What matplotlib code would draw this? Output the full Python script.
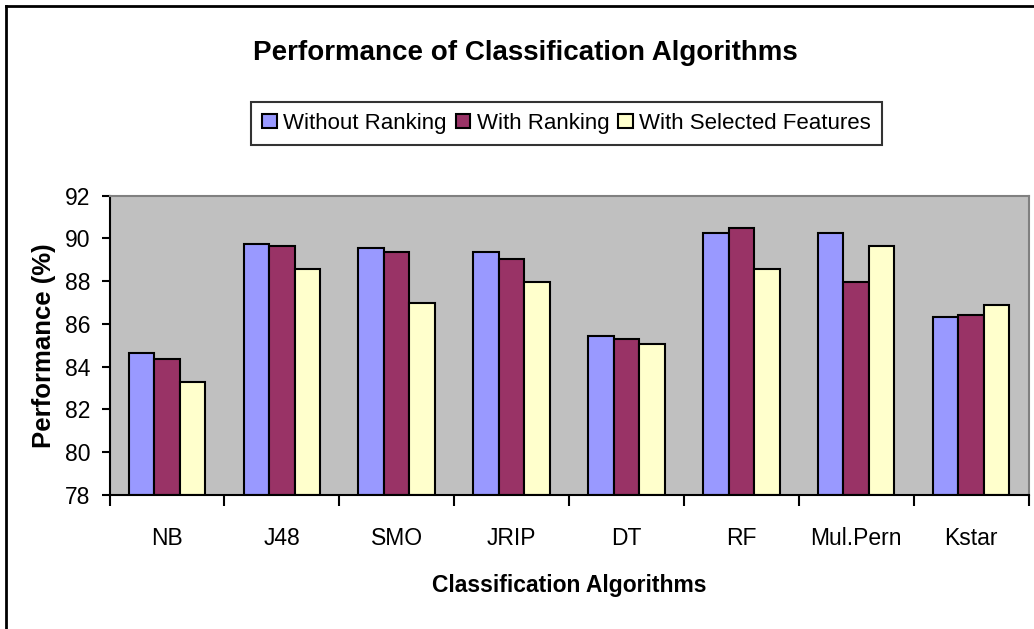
import matplotlib
matplotlib.use("Agg")
import matplotlib.pyplot as plt
import numpy as np

plt.rcParams["font.family"] = ["Liberation Sans", "DejaVu Sans"]

categories = ["NB", "J48", "SMO", "JRIP", "DT", "RF", "Mul.Pern", "Kstar"]
without_ranking = [84.64, 89.74, 89.54, 89.37, 85.44, 90.24, 90.24, 86.33]
with_ranking = [84.35, 89.63, 89.35, 89.05, 85.31, 90.50, 87.98, 86.42]
with_selected = [83.29, 88.56, 87.00, 87.98, 85.05, 88.56, 89.63, 86.90]

series = [("Without Ranking", without_ranking, "#9999FF"),
          ("With Ranking", with_ranking, "#993366"),
          ("With Selected Features", with_selected, "#FFFFCC")]

fig = plt.figure(figsize=(10.34, 6.29), dpi=100)
ax = fig.add_axes([0.1059, 0.2130, 0.8888, 0.4759])
ax.set_facecolor("#C0C0C0")

x = np.arange(len(categories))
w = 0.222
for k, (name, vals, col) in enumerate(series):
    ax.bar(x + (k - 1) * w, np.array(vals) - 78, w, bottom=78, color=col,
           edgecolor="black", linewidth=1.5, label=name)

ax.set_xlim(-0.5, len(categories) - 0.5)
ax.set_ylim(78, 92)
ax.set_yticks(range(78, 93, 2))
ax.set_xticks(x)
ax.set_xticklabels(categories, fontsize=16.5)
ax.set_xticks(np.arange(len(categories) + 1) - 0.5, minor=True)
ax.tick_params(axis="x", which="major", length=0, pad=23)
ax.tick_params(axis="x", which="minor", length=8, width=1.5, direction="out")
ax.tick_params(axis="y", length=6, width=1.5, pad=8, labelsize=16.5)

for s in ["top", "right"]:
    ax.spines[s].set_color("#808080")
    ax.spines[s].set_linewidth(1.5)
for s in ["left", "bottom"]:
    ax.spines[s].set_linewidth(1.5)

ax.set_xlabel("Classification Algorithms", fontsize=16.5, fontweight="bold", labelpad=17)
ax.set_ylabel("Performance (%)", fontsize=18.5, fontweight="bold", labelpad=6)

fig.text(0.508, 0.915, "Performance of Classification Algorithms", fontsize=20,
         fontweight="bold", ha="center", va="center")

leg = fig.legend(loc="center", bbox_to_anchor=(0.548, 0.804), ncol=3, fontsize=16,
                 frameon=True, fancybox=False, edgecolor="black", handlelength=0.65,
                 handleheight=0.65, handletextpad=0.3, columnspacing=0.4,
                 borderpad=0.5, borderaxespad=0)
leg.get_frame().set_linewidth(1.5)

# outer chart border (left and top visible)
fig.add_artist(plt.Line2D([0.006, 0.006], [0, 0.99], color="black", lw=2,
                          transform=fig.transFigure))
fig.add_artist(plt.Line2D([0.006, 1.0], [0.99, 0.99], color="black", lw=2,
                          transform=fig.transFigure))

fig.savefig("out.png", dpi=100)
